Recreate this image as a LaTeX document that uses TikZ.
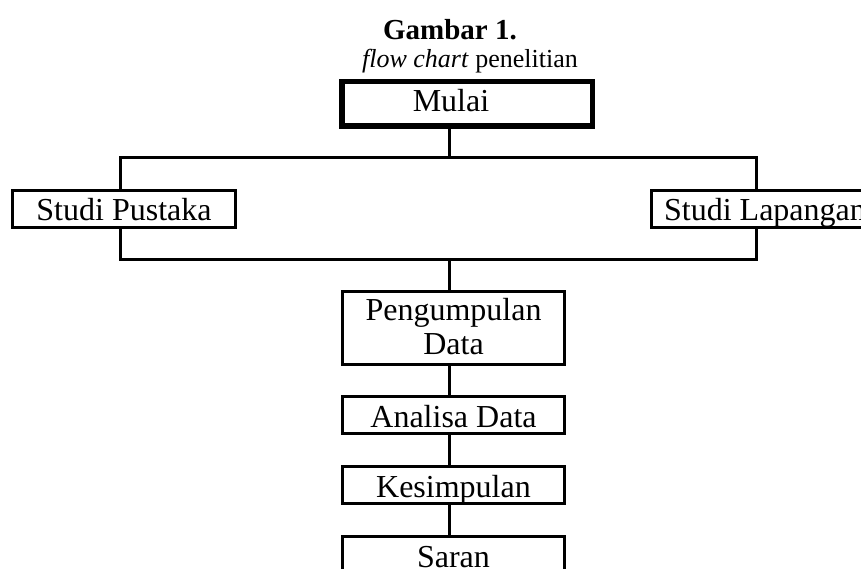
\documentclass[tikz,border=0pt]{standalone}
\usepackage{fontspec}
\setmainfont{Liberation Serif}
\usetikzlibrary{positioning}

\begin{document}
\begin{tikzpicture}[
        x=1pt, y=-1pt,
        box/.style={rectangle, draw, fill=white, line width=3pt, inner sep=0pt, minimum width=222pt, minimum height=37pt, align=center, font=\fontsize{32}{34}\selectfont, text height=24pt, text depth=0pt},
        tallbox/.style={box, minimum height=73pt, text height=56pt, text depth=4pt},
        startbox/.style={box, line width=5.5pt, minimum width=250.5pt, minimum height=44.5pt, text height=22pt, text depth=6pt},
        link/.style={line width=3pt}
    ]
        \path[use as bounding box, clip] (0,0) rectangle (861,569);

        % Title
        \node[anchor=base, font=\bfseries\fontsize{29}{32}\selectfont] (title) at (450,40) {Gambar 1.};
        \node[anchor=base, font=\fontsize{26}{30}\selectfont] (subtitle) at (470,68) {\textit{flow chart} penelitian};

        % Boxes
        \node[startbox] (mulai) at (467,104) {Mulai\hspace*{32pt}};
        \node[box, minimum width=223pt] (pustaka) at (124,209) {Studi Pustaka};
        \node[box, anchor=west, minimum width=228pt] (lapangan) at (649.5,209) {Studi Lapangan};
        \node[tallbox] (pengumpulan) at (453.5,328) {Pengumpulan\\Data};
        \node[box] (analisa) at (453.5,415) {Analisa Data};
        \node[box] (kesimpulan) at (453.5,485) {Kesimpulan};
        \node[box] (saran) at (453.5,555) {Saran};

        % Branch and merge points
        \coordinate (split) at (449,158);
        \coordinate (join) at (449,259);
        \coordinate (lt) at (120,158);
        \coordinate (rt) at (756,158);
        \coordinate (lb) at (120,259);
        \coordinate (rb) at (756,259);

        % Connections
        \draw[link] (split |- mulai.south) -- (split);
        \draw[link] (lt |- pustaka.north) -- (lt) -- (rt) -- (rt |- lapangan.north);
        \draw[link] (lt |- pustaka.south) -- (lb) -- (rb) -- (rt |- lapangan.south);
        \draw[link] (join) -- (join |- pengumpulan.north);
        \draw[link] (join |- pengumpulan.south) -- (join |- analisa.north);
        \draw[link] (join |- analisa.south) -- (join |- kesimpulan.north);
        \draw[link] (join |- kesimpulan.south) -- (join |- saran.north);

    \end{tikzpicture}
\end{document}
